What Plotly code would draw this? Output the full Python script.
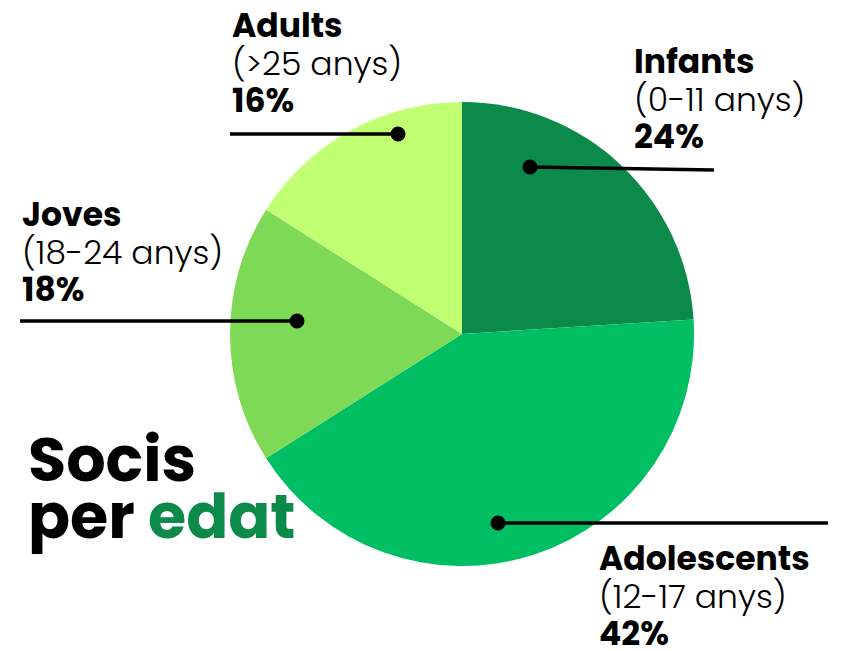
import plotly.graph_objects as go

# ---- data ----
categories = ["Infants", "Adolescents", "Joves", "Adults"]
age_ranges = ["(0-11 anys)", "(12-17 anys)", "(18-24 anys)", "(>25 anys)"]
shares = [24, 42, 18, 16]
colors = ["#0b8a4a", "#00bf63", "#7ed957", "#c1ff72"]
title_lines = ["Socis", "per", "edat"]

# ---- layout helpers (pixel positions on the 843x651 screenshot) ----
W, H = 843, 651
OFF = 8  # page body margin offset
# left x, y centre of the label block (middle line)
label_pos = {
    "Infants": (632, 99),
    "Adolescents": (597, 596),
    "Joves": (20, 252),
    "Adults": (230, 63),
}
leaders = {
    "Infants": ((714, 170), (530, 167)),
    "Adolescents": ((828, 523), (498, 523)),
    "Joves": ((20, 321), (297, 321)),
    "Adults": ((230, 134), (398, 134)),
}
FONT = "Poppins, Inter, Lato, sans-serif"

cx, cy, r = 462, 334, 232
pcx, pcy = cx - OFF, cy - OFF  # position inside the figure

fig = go.Figure()
fig.add_trace(go.Pie(
    labels=categories,
    values=shares,
    marker=dict(colors=colors, line=dict(width=0)),
    sort=False,
    direction="clockwise",
    rotation=0,
    textinfo="none",
    hoverinfo="label+percent",
    showlegend=False,
    domain=dict(x=[(pcx - r) / W, (pcx + r) / W], y=[(H - pcy - r) / H, (H - pcy + r) / H]),
))

# invisible trace to create the pixel-space axes
fig.add_trace(go.Scatter(x=[OFF, W + OFF], y=[OFF, H + OFF], mode="markers",
                         marker=dict(opacity=0), hoverinfo="skip", showlegend=False))

shapes = []
DR = 7.5
for c in categories:
    (x0, y0), (x1, y1) = leaders[c]
    shapes.append(dict(type="line", xref="x", yref="y", x0=x0, y0=y0, x1=x1, y1=y1,
                       line=dict(color="black", width=3.5), layer="above"))
    shapes.append(dict(type="circle", xref="x", yref="y",
                       x0=x1 - DR, x1=x1 + DR, y0=y1 - DR, y1=y1 + DR,
                       fillcolor="black", line=dict(width=0), layer="above"))

annotations = []
LBL = "font-size:33px"
for c, rng, s in zip(categories, age_ranges, shares):
    lx, ly = label_pos[c]
    txt = (f"<span style='{LBL}'><b>{c}</b></span><br>"
           f"<span style='{LBL};font-weight:300'>{rng}</span><br>"
           f"<span style='{LBL}'><b>{s}%</b></span>")
    annotations.append(dict(
        x=lx, y=ly, xref="x", yref="y", text=txt, showarrow=False,
        xanchor="left", yanchor="middle", align="left",
        font=dict(family=FONT, size=29, color="black"),
    ))

# title
TS = "font-size:62px"
annotations.append(dict(
    x=26, y=488, xref="x", yref="y",
    text=(f"<span style='{TS}'><b>{title_lines[0]}</b></span><br>"
          f"<span style='{TS}'><b>{title_lines[1]} </b></span>"
          f"<span style='{TS};color:#0b8a4a'><b>{title_lines[2]}</b></span>"),
    showarrow=False, xanchor="left", yanchor="middle", align="left",
    font=dict(family=FONT, size=44, color="black"),
))

fig.update_layout(
    width=W, height=H,
    margin=dict(l=0, r=0, t=0, b=0),
    paper_bgcolor="white", plot_bgcolor="rgba(0,0,0,0)",
    xaxis=dict(range=[OFF, W + OFF], visible=False, domain=[0, 1], fixedrange=True),
    yaxis=dict(range=[H + OFF, OFF], visible=False, domain=[0, 1], fixedrange=True),
    shapes=shapes,
    annotations=annotations,
)

fig.write_html("out.html")
